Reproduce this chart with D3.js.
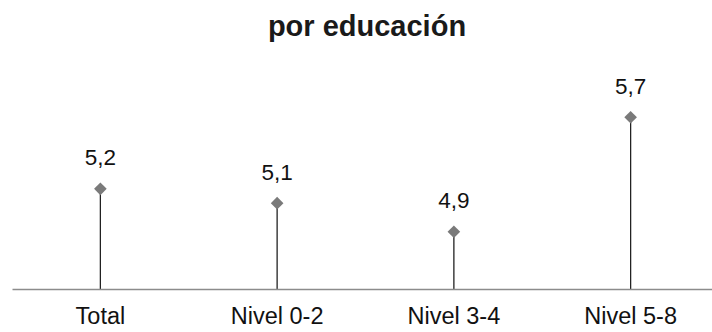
<!DOCTYPE html>
<html><head><meta charset="utf-8">
<script src="https://cdn.jsdelivr.net/npm/d3@7"></script>
<style>body{margin:0;background:#fff}svg{display:block}</style>
</head><body>
<svg id="c" width="712" height="332"></svg>
<script>
const title = "por educación";
const categories = ["Total", "Nivel 0-2", "Nivel 3-4", "Nivel 5-8"];
const values = [5.2, 5.1, 4.9, 5.7];
const valueLabels = ["5,2", "5,1", "4,9", "5,7"];

const svg = d3.select("#c");
const x = d3.scaleBand().domain(categories).range([12, 719]).padding(0);
const y = d3.scaleLinear().domain([4.5, 5.7]).range([289, 117.3]);
const font = "'Liberation Sans', Arial, sans-serif";

svg.append("text").attr("x", 367).attr("y", 36).attr("text-anchor", "middle")
  .attr("font-family", font).attr("font-weight", "bold").attr("font-size", 29)
  .attr("fill", "#1a1a1a").text(title);

const data = categories.map((c, i) => ({c, v: values[i], l: valueLabels[i]}));
const cx = d => x(d.c) + x.bandwidth() / 2;

svg.selectAll("line.stem").data(data).join("line").attr("class", "stem")
  .attr("x1", cx).attr("x2", cx).attr("y1", y(4.5)).attr("y2", d => y(d.v))
  .attr("stroke", "#222").attr("stroke-width", 1.3);

const axis = d3.axisBottom(x).tickSize(0).tickPadding(0);
const ag = svg.append("g").attr("transform", `translate(0,${y(4.5)})`).call(axis);
ag.select(".domain").attr("stroke", "#8c8c8c").attr("stroke-width", 1.3);
ag.selectAll(".tick text").attr("font-family", font).attr("font-size", 23.5)
  .attr("fill", "#111").attr("dy", null).attr("y", 35);

svg.selectAll("path.pt").data(data).join("path").attr("class", "pt")
  .attr("d", d3.symbol().type(d3.symbolSquare).size(80))
  .attr("transform", d => `translate(${cx(d)},${y(d.v)}) rotate(45)`)
  .attr("fill", "#7a7a7a");

svg.selectAll("text.val").data(data).join("text").attr("class", "val")
  .attr("x", cx).attr("y", d => y(d.v) - 23.5).attr("text-anchor", "middle")
  .attr("font-family", font).attr("font-size", 22.5).attr("fill", "#111")
  .text(d => d.l);
</script>
</body></html>
